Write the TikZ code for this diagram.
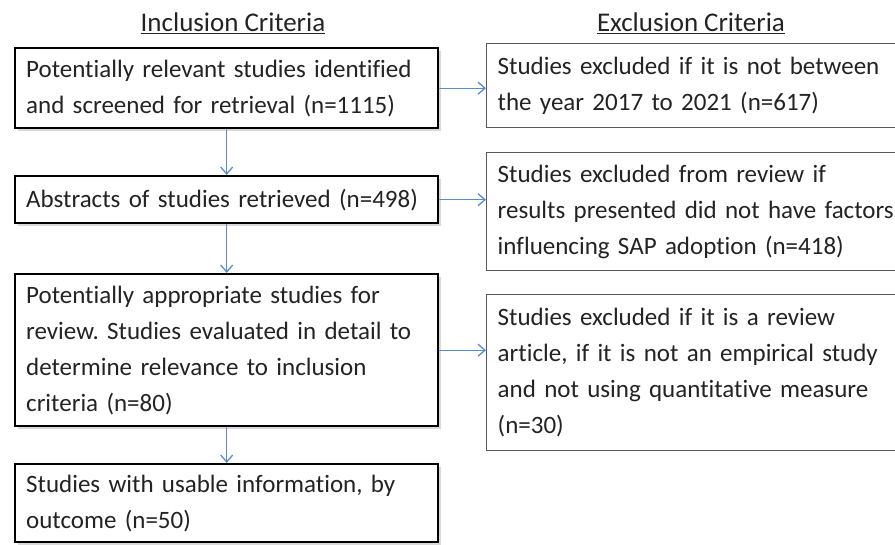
\documentclass[tikz,border=0pt]{standalone}
\usepackage{fontspec}
\setmainfont[WordSpace = {0.55,0.2,0.2}, Ligatures = NoCommon]{Carlito}
\usetikzlibrary{arrows.meta}
\usetikzlibrary{shadows}
\usetikzlibrary{calc}

\definecolor{arrblue}{RGB}{88,140,208}
\definecolor{txtgray}{RGB}{35,35,35}

\begin{document}
\frenchspacing
\begin{tikzpicture}[x = 1pt, y = -1pt,
	every node/.style = {align = left, text = txtgray, font = \fontsize{25}{36}\selectfont},
	incl/.style = {draw = black, line width = 2.4pt, anchor = north west, text width = 401pt, inner xsep = 11pt, inner ysep = 4pt, fill = white, drop shadow = {opacity = 0.3, shadow xshift = 2.5pt, shadow yshift = -2.5pt}},
	excl/.style = {draw = black!65, line width = 1.4pt, anchor = north west, text width = 410pt, inner xsep = 11pt, inner ysep = 4pt, fill = white},
	arr/.style = {draw = arrblue, line width = 1.3pt, -{Straight Barb[length = 7pt, width = 12pt]}}]
	\useasboundingbox (0,0) rectangle (895,544);
	\clip (0,0) rectangle (895,544);
	
	% column titles
	\node (inc) at (233,23) {\fontsize{27}{30}\selectfont\underline{Inclusion\hspace{0.22em}Criteria}};
	\node (exc) at (691,23) {\fontsize{27}{30}\selectfont\underline{Exclusion\hspace{0.22em}Criteria}};
	
	% inclusion steps
	\node[incl, minimum height = 80pt] (A) at (14,47) {Potentially relevant studies identified\\ and screened for retrieval (n=1115)};
	\node[incl, minimum height = 47pt] (B) at (14,175) {Abstracts of studies retrieved (n=498)};
	\node[incl, minimum height = 152pt] (C) at (14,273) {Potentially appropriate studies for\\ review. Studies evaluated in detail to\\ determine relevance to inclusion\\ criteria (n=80)};
	\node[incl, minimum height = 78pt] (D) at (14,463) {Studies with usable information, by\\ outcome (n=50)};
	
	% exclusion steps
	\node[excl, minimum height = 84pt] (a) at (486,43) {Studies excluded if it is not between\\ the year 2017 to 2021 (n=617)};
	\node[excl, minimum height = 118pt] (b) at (486,152) {Studies excluded from review if\\ results presented did not have factors\\ influencing SAP adoption (n=418)};
	\node[excl, minimum height = 156pt] (c) at (486,294) {Studies excluded if it is a review\\ article, if it is not an empirical study\\ and not using quantitative measure\\ (n=30)};
	
	\draw[arr] (A) -- (B);
	\draw[arr] (B) -- (C);
	\draw[arr] (C) -- (D);
	\draw[arr] (A.east) -- (A.east -| a.west);
	\draw[arr] (B.east) -- (B.east -| b.west);
	\draw[arr] (C.east) -- (C.east -| c.west);
	
\end{tikzpicture}
\end{document}
